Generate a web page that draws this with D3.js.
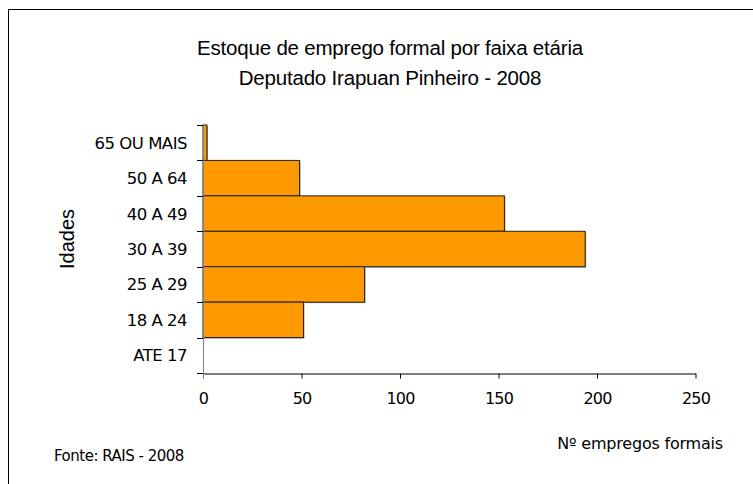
<!DOCTYPE html>
<html>
<head>
<meta charset="utf-8">
<script src="https://cdn.jsdelivr.net/npm/d3@7"></script>
<style>
  body { margin: 0; background: #fff; }
  svg text { fill: #000; }
  .lbl { font-family: "DejaVu Sans", sans-serif; }
  .ttl { font-family: "Liberation Sans", Arial, sans-serif; }
</style>
</head>
<body>
<svg id="chart"></svg>
<script>
// age groups, top to bottom as drawn
var Ages = ["65 OU MAIS", "50 A 64", "40 A 49", "30 A 39", "25 A 29", "18 A 24", "ATE 17"];
var Jobs = [2, 49, 153, 194, 82, 51, 0];
var xTicks = [0, 50, 100, 150, 200, 250];
var titleLines = ["Estoque de emprego formal por faixa etária", "Deputado Irapuan Pinheiro - 2008"];

var width = 753, height = 484;

var svg = d3.select("#chart")
  .attr("width", width)
  .attr("height", height);

// outer frame (runs off the right and bottom)
svg.append("rect")
  .attr("x", 8.5).attr("y", 9.5)
  .attr("width", 800).attr("height", 600)
  .attr("fill", "none")
  .attr("stroke", "#000");

const x = d3.scaleLinear().domain([0, 250]).range([203, 695.5]);
const y = d3.scaleBand().domain(Ages).range([125, 373]).paddingInner(0).paddingOuter(0);

const data = Ages.map((a, i) => ({age: a, jobs: Jobs[i]}));

// titles
svg.selectAll(".ttl")
  .data(titleLines)
  .enter()
  .append("text")
  .attr("class", "ttl")
  .attr("x", 390)
  .attr("y", (d, i) => 55 + i * 30)
  .attr("text-anchor", "middle")
  .style("font-size", "20.5px")
  .style("letter-spacing", "-0.2px")
  .text(d => d);

// bar shadows then bars
svg.selectAll(".shadow")
  .data(data.filter(d => d.jobs > 0))
  .enter()
  .append("rect")
  .attr("class", "shadow")
  .attr("x", x(0) + 1)
  .attr("y", d => y(d.age) + 1)
  .attr("width", d => x(d.jobs) - x(0))
  .attr("height", y.bandwidth())
  .attr("fill", "#999");

svg.selectAll(".bar")
  .data(data.filter(d => d.jobs > 0))
  .enter()
  .append("rect")
  .attr("class", "bar")
  .attr("x", x(0))
  .attr("y", d => y(d.age))
  .attr("width", d => x(d.jobs) - x(0))
  .attr("height", y.bandwidth())
  .attr("fill", "#ff9900")
  .attr("stroke", "#222")
  .attr("stroke-width", 1);

// x axis
const xAxis = d3.axisBottom(x)
  .tickValues(xTicks)
  .tickSize(5)
  .tickSizeOuter(0)
  .tickPadding(14)
  .tickFormat(d3.format("d"));

const gx = svg.append("g")
  .attr("transform", "translate(0," + (y.range()[1] + 0.5) + ")")
  .call(xAxis);
gx.select(".domain").attr("stroke", "#000");
gx.selectAll(".tick line").attr("stroke", "#000");
gx.selectAll(".tick text")
  .attr("class", "lbl")
  .attr("fill", "#000")
  .style("font-size", "16px")
  .style("letter-spacing", "-0.8px");

// y axis: ticks at band boundaries
const bounds = Ages.map(a => y(a)).concat([y.range()[1]]);
svg.selectAll(".ytick")
  .data(bounds)
  .enter()
  .append("line")
  .attr("class", "ytick")
  .attr("x1", x(0) - 6).attr("x2", x(0))
  .attr("y1", d => Math.round(d) + 0.5)
  .attr("y2", d => Math.round(d) + 0.5)
  .attr("stroke", "#000");

svg.append("line")
  .attr("x1", x(0) + 0.5).attr("x2", x(0) + 0.5)
  .attr("y1", y.range()[0]).attr("y2", y.range()[1] + 5)
  .attr("stroke", "#808080");

svg.selectAll(".ylab")
  .data(Ages)
  .enter()
  .append("text")
  .attr("class", "lbl")
  .attr("x", 187)
  .attr("y", d => y(d) + y.bandwidth() / 2)
  .attr("dy", "0.36em")
  .attr("text-anchor", "end")
  .style("font-size", "16.5px")
  .style("letter-spacing", "-0.5px")
  .text(d => d);

// axis titles
svg.append("text")
  .attr("class", "ttl")
  .attr("transform", "translate(74,239) rotate(-90)")
  .attr("text-anchor", "middle")
  .style("font-size", "20px")
  .text("Idades");

svg.append("text")
  .attr("class", "lbl")
  .attr("x", 723)
  .attr("y", 449)
  .attr("text-anchor", "end")
  .style("font-size", "16px")
  .style("letter-spacing", "-0.2px")
  .text("Nº empregos formais");

svg.append("text")
  .attr("class", "lbl")
  .attr("x", 54)
  .attr("y", 461)
  .style("font-size", "15px")
  .style("letter-spacing", "-0.5px")
  .text("Fonte: RAIS - 2008");
</script>
</body>
</html>
